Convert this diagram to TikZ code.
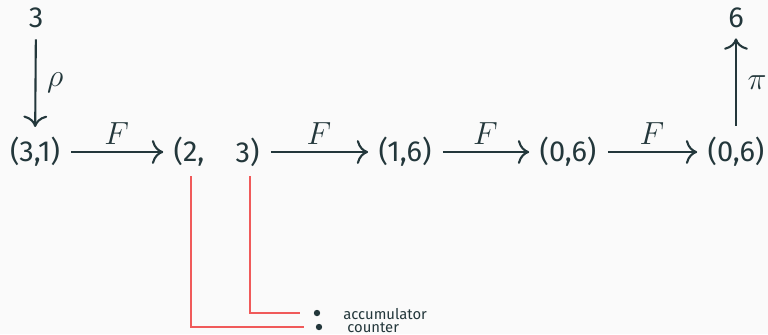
\documentclass[tikz,border=0pt]{standalone}
\usepackage{fix-cm}
\usepackage{amsmath}
\usepackage{fontspec}
\setmainfont{Fira Sans}
\usetikzlibrary{arrows.meta}
\usepackage{xcolor}
\definecolor{mDark}{RGB}{35,55,59}
\definecolor{mRed}{RGB}{240,90,90}
\definecolor{mBg}{RGB}{250,250,250}

\begin{document}
\begin{tikzpicture}[x=0.5pt, y=-0.5pt,
  state/.style={text=mDark, inner sep=0pt, font=\fontsize{14.5}{17}\selectfont},
  map/.style={draw=mDark, line width=1.05pt, -{To[scale=1.45]}, shorten <=5.5pt, shorten >=5pt},
  lbl/.style={text=mDark, font=\fontsize{16}{19}\selectfont},
  tick/.style={draw=mRed, line width=0.55pt},
  bullet/.style={circle, fill=mDark, inner sep=0pt, minimum size=3.2pt},
  itemtxt/.style={text=mDark, inner sep=0pt, anchor=west, font=\fontsize{7.4}{8}\selectfont}]
\fill[mBg] (0,0) rectangle (768,334);
\useasboundingbox (0,0) rectangle (768,334);
\node[state] (in3) at (36,18) {3};
\node[state] (st0) at (35,152) {(3,1)};
\node[state] (st1a) at (189,152) {(2,};
\node[state] (st1b) at (247.5,152) {3)};
\node[state] (st2) at (405,152) {(1,6)};
\node[state] (st3) at (568,152) {(0,6)};
\node[state] (st4) at (736,152) {(0,6)};
\node[state] (out6) at (736,18) {6};
\draw[map] (in3) -- (st0) node[midway, right=2pt, lbl] {$\rho$};
\draw[map] (st0) -- (st1a) node[midway, above, lbl] {$F$};
\draw[map] (st1b) -- (st2) node[midway, above, lbl] {$F$};
\draw[map] (st2) -- (st3) node[midway, above, lbl] {$F$};
\draw[map] (st3) -- (st4) node[midway, above, lbl] {$F$};
\draw[map] (st4) -- (out6) node[midway, right=2pt, lbl] {$\pi$};
% legend below the pair
\coordinate (cntTick) at (191,176);
\coordinate (accTick) at (250,176);
\node[bullet] (accDot) at (317,313) {};
\node[bullet] (cntDot) at (319,327) {};
\node[itemtxt] (accTxt) at (343,314) {accumulator};
\node[itemtxt] (cntTxt) at (347,327.5) {counter};
\draw[tick] (accTick) |- ([xshift=-6.5pt]accDot.west);
\draw[tick] (cntTick) |- ([xshift=-5.5pt]cntDot.west);
\end{tikzpicture}
\end{document}
